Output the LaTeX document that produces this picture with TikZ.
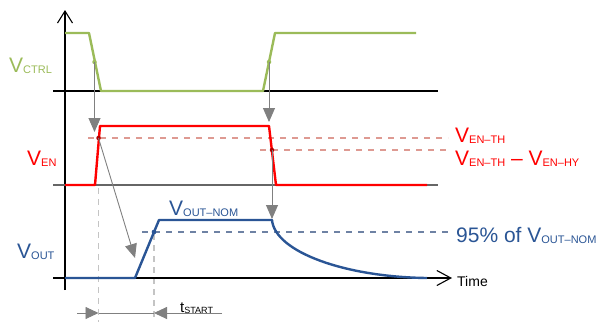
\documentclass[tikz,border=0pt]{standalone}
\usepackage{fontspec}
\setmainfont{Liberation Sans}
\usetikzlibrary{arrows.meta}
\definecolor{ctrlgreen}{HTML}{9BBB59}
\definecolor{enred}{HTML}{FF0000}
\definecolor{dotred}{HTML}{B00000}
\definecolor{dashred}{HTML}{DE9A92}
\definecolor{outblue}{HTML}{2A5595}
\definecolor{dashblue}{HTML}{6E82A4}
\definecolor{arrgray}{HTML}{808080}
\definecolor{guidegray}{HTML}{C4C4C4}
\newcommand\bigV[2]{{\fontsize{21}{21}\selectfont V}\raisebox{-1.5pt}{\fontsize{11}{11}\selectfont #1}#2}
\begin{document}
\begin{tikzpicture}[x=1pt,y=-1pt,
  axis/.style={line width=1.1pt,black},
  sig/.style={line width=2.4pt,line join=round},
  garrow/.style={arrgray,line width=0.9pt,-{Triangle[length=14pt,width=12pt]}},
  guide/.style={guidegray,line width=1.3pt,dash pattern=on 6pt off 5pt},
  thr/.style={line width=1.2pt,dash pattern=on 6pt off 6pt},
  sdot/.style={circle,fill=#1,inner sep=0pt,minimum size=4.5pt},
  lbl/.style={inner sep=0pt,anchor=base west}]
\useasboundingbox (0,0) rectangle (600,322);
% axes
\coordinate (ytop) at (65,10);
\coordinate (ybot) at (65,290);
\coordinate (c0) at (53,91);  \coordinate (c1) at (438,91);
\coordinate (e0) at (53,185); \coordinate (e1) at (438,185);
\coordinate (o0) at (53,278); \coordinate (o1) at (452,278);
% guides
\coordinate (gd1a) at (98.5,188); \coordinate (gd1b) at (98.5,322);
\coordinate (gd2b) at (154,322);
\draw[guide] (gd1a) -- (gd1b);
\node[sdot=outblue] (b1) at (154,232) {};
\draw[guide] (b1) -- (gd2b);
% thresholds
\coordinate (th1a) at (88,138);  \coordinate (th1b) at (448,138);
\coordinate (th2a) at (260,150); \coordinate (th2b) at (448,150);
\coordinate (t95a) at (142,232); \coordinate (t95b) at (448,232);
\draw[thr,dashred] (th1a) -- (th1b);
\draw[thr,dashred] (th2a) -- (th2b);
\draw[thr,dashblue] (t95a) -- (t95b);
\draw[axis,-{Straight Barb[length=12pt,width=15pt]}] (ybot) -- (ytop);
\draw[axis] (c0) -- (c1);
\draw[line width=1.1pt,black!60] (e0) -- (e1);
\draw[axis,-{Straight Barb[length=14pt,width=15pt]}] (o0) -- (o1);
% signals
\draw[sig,ctrlgreen] (65,33) -- (89,33) -- (101,91) -- (263,91) -- (275,33) -- (416,33);
\draw[sig,enred] (65,185) -- (95,185) -- (100,126) -- (269,126) -- (276,185) -- (427,185);
\draw[sig,outblue] (65,278) -- (135,278) -- (159,220) -- (272,220)
   .. controls (275,252) and (345,277) .. (427,278);
% dots
\node[sdot=ctrlgreen] (g1) at (94.5,62) {};
\node[sdot=ctrlgreen] (g2) at (269,62) {};
\node[sdot=dotred] (r1) at (98.5,138) {};
\node[sdot=dotred] (r2) at (272,150) {};
\node[sdot=outblue] (b1b) at (154,232) {};
% arrows
\coordinate (a1) at (94.5,132);
\coordinate (a2) at (269,122);
\coordinate (a3) at (135,258);
\coordinate (a4) at (272,219);
\draw[garrow] (g1.center) -- (a1);
\draw[garrow] (g2.center) -- (a2);
\draw[garrow] (r1.center) -- (a3);
\draw[garrow] (r2.center) -- (a4);
% tstart
\coordinate (d0) at (77,313); \coordinate (d1) at (98.5,313);
\coordinate (d2) at (222,313); \coordinate (d3) at (154,313);
\draw[arrgray,line width=0.9pt] (d1) -- (d3);
\draw[arrgray,line width=0.9pt,-{Triangle[length=13pt,width=12pt]}] (d0) -- (d1);
\draw[arrgray,line width=0.9pt,-{Triangle[length=13pt,width=12pt]}] (d2) -- (d3);
% labels
\node[lbl,ctrlgreen] (lctrl) at (9,72) {\bigV{CTRL}{}};
\node[lbl,enred] (len) at (27,165) {\bigV{EN}{}};
\node[lbl,outblue] (lout) at (17,258) {\bigV{OUT}{}};
\node[lbl,enred] (lth) at (455,142) {\bigV{EN–TH}{}};
\node[lbl,enred] (lhy) at (455,165) {\bigV{EN–TH}{\fontsize{21}{21}\selectfont\ – }\bigV{EN–HY}{}};
\node[lbl,outblue] (lnom) at (169,215) {\bigV{OUT–NOM}{}};
\node[lbl,outblue] (l95) at (456,242) {{\fontsize{21}{21}\selectfont 95\% of }\bigV{OUT–NOM}{}};
\node[lbl,black] (ltime) at (457,286) {\fontsize{14}{14}\selectfont Time};
\node[lbl,black] (lts) at (180,312) {{\fontsize{15}{15}\selectfont t}\raisebox{-1.5pt}{\fontsize{9}{9}\selectfont START}};
\end{tikzpicture}
\end{document}
